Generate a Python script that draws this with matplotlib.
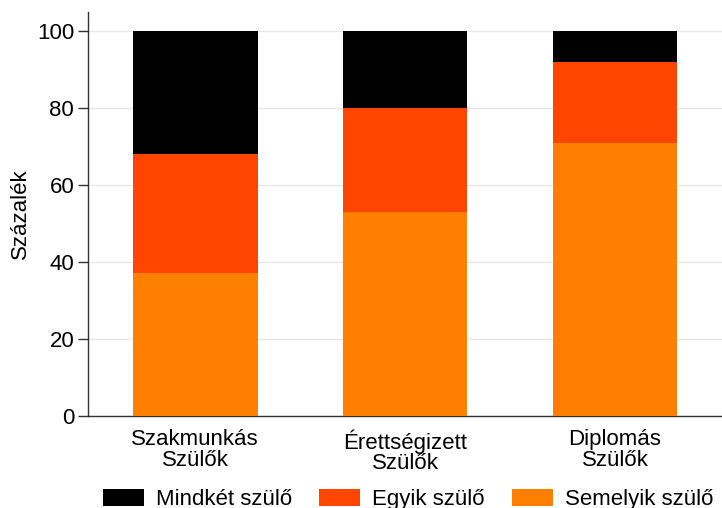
import matplotlib
matplotlib.use("Agg")
import matplotlib.pyplot as plt
import numpy as np

categories = ["Szakmunkás\nSzülők", "Érettségizett\nSzülők", "Diplomás\nSzülők"]
semelyik = [37, 53, 71]
egyik = [31, 27, 21]
mindket = [32, 20, 8]
series_names = ["Mindkét szülő", "Egyik szülő", "Semelyik szülő"]
colors = {"Mindkét szülő": "#000000", "Egyik szülő": "#FF4500", "Semelyik szülő": "#FF7F00"}

plt.rcParams['font.family'] = ['Liberation Sans', 'DejaVu Sans']
FS = 16

fig = plt.figure(figsize=(7.22, 5.08), dpi=100)
ax = fig.add_axes([0.122, 0.182, 0.878, 0.794])

x = np.arange(len(categories))
w = 0.595
b1 = ax.bar(x, semelyik, w, color=colors["Semelyik szülő"], label="Semelyik szülő", zorder=3)
b2 = ax.bar(x, egyik, w, bottom=semelyik, color=colors["Egyik szülő"], label="Egyik szülő", zorder=3)
bottom3 = np.array(semelyik) + np.array(egyik)
b3 = ax.bar(x, mindket, w, bottom=bottom3, color=colors["Mindkét szülő"], label="Mindkét szülő", zorder=3)

ax.set_xlim(-0.51, 2.51)
ax.set_ylim(0, 105)
ax.set_yticks([0, 20, 40, 60, 80, 100])
ax.set_xticks(x)
ax.set_xticklabels(categories, fontsize=FS, linespacing=0.95)
ax.tick_params(axis='y', labelsize=FS, length=7, width=1, color='#333333', pad=3)
ax.tick_params(axis='x', length=0, pad=10)
ax.yaxis.grid(True, color='#e8e8e8', linewidth=1, zorder=0)
ax.set_axisbelow(True)
for s in ['top', 'right']:
    ax.spines[s].set_visible(False)
for s in ['left', 'bottom']:
    ax.spines[s].set_color('#333333')
    ax.spines[s].set_linewidth(1)
ax.set_ylabel("Százalék", fontsize=FS, labelpad=4)

ax.legend(handles=[b3, b2, b1], labels=series_names, loc='center',
          bbox_to_anchor=(0.505, -0.208), ncol=3, frameon=False, fontsize=FS,
          handlelength=1.85, handleheight=0.8, columnspacing=1.2, handletextpad=0.55,
          borderpad=0, borderaxespad=0)

fig.savefig("out.png", dpi=100)
